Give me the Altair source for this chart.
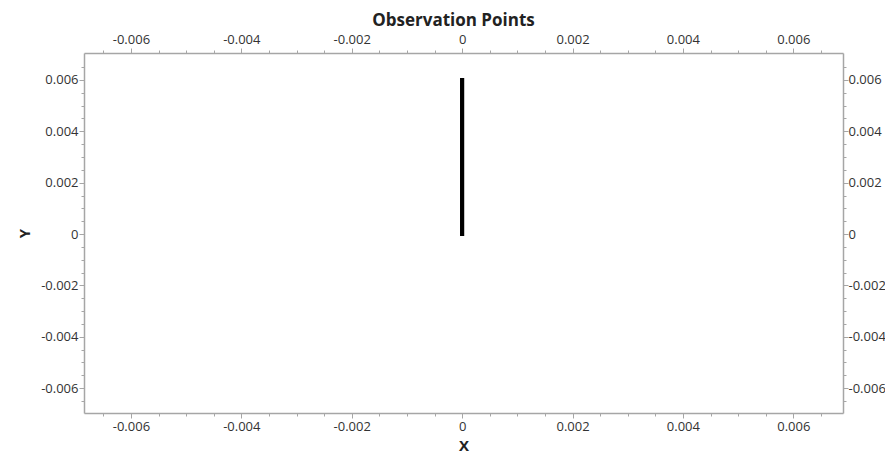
import altair as alt
import pandas as pd

# Observation points (a vertical line of points at x = 0)
obs_x = [0.0, 0.0]
obs_y = [0.0, 0.006]

# Axis ranges and ticks
x_domain = [-0.00685, 0.0069]
y_domain = [-0.00697, 0.00705]
tick_values = [-0.0065, -0.006, -0.0055, -0.005, -0.0045, -0.004, -0.0035, -0.003,
               -0.0025, -0.002, -0.0015, -0.001, -0.0005, 0.0, 0.0005, 0.001,
               0.0015, 0.002, 0.0025, 0.003, 0.0035, 0.004, 0.0045, 0.005,
               0.0055, 0.006, 0.0065]

df = pd.DataFrame({"x": obs_x, "y": obs_y})

FONT = "Open Sans"
LABEL_COLOR = "#333333"
AXIS_COLOR = "#a6a6a6"
major_test = "abs(round(datum.value*10000)) % 20 == 0"
label_expr = major_test + " ? replace(datum.label, '\u2212', '-') : ''"


def make_axis(orient, title="", pad=1, **kw):
    return alt.Axis(
        orient=orient,
        values=tick_values,
        format=".3~f",
        labelExpr=label_expr,
        labelOverlap=False,
        labelFlush=False,
        labelFont=FONT,
        labelFontSize=13,
        labelColor=LABEL_COLOR,
        labelPadding=pad,
        tickSize={"condition": {"test": major_test, "value": 5}, "value": 3},
        tickColor=AXIS_COLOR,
        domainColor=AXIS_COLOR,
        domainWidth=1.5,
        grid=False,
        title=title,
        titleFont=FONT,
        titleFontWeight="bold",
        titleColor="#222222",
        **kw,
    )


xs = alt.Scale(domain=x_domain, nice=False, zero=False)
ys = alt.Scale(domain=y_domain, nice=False, zero=False)

base = alt.Chart(df).mark_line(color="black", strokeWidth=4, strokeCap="square")

bottom_left = base.encode(
    x=alt.X("x:Q", scale=xs,
            axis=make_axis("bottom", "X", pad=2, titleFontSize=15, titleY=32,
                           titleBaseline="middle")),
    y=alt.Y("y:Q", scale=ys,
            axis=make_axis("left", "Y", titleFontSize=15, titleX=-60, titleY=180,
                           titleBaseline="middle", titleAngle=270)),
)

top_right = base.encode(
    x=alt.X("x:Q", scale=xs,
            axis=make_axis("top", "Observation Points", pad=2, titleFontSize=17,
                           titleY=-33, titleX=369, titleBaseline="middle")),
    y=alt.Y("y:Q", scale=ys, axis=make_axis("right", "", pad=0)),
)

chart = (
    alt.layer(bottom_left, top_right)
    .resolve_axis(x="independent", y="independent")
    .properties(
        width=759,
        height=360,
        autosize=alt.AutoSizeParams(type="none"),
        padding={"left": 76, "top": 45, "right": 42, "bottom": 40},
        background="white",
    )
    .configure_view(stroke="transparent")
)

chart.save("out.html", embed_options={"renderer": "svg", "actions": False})
